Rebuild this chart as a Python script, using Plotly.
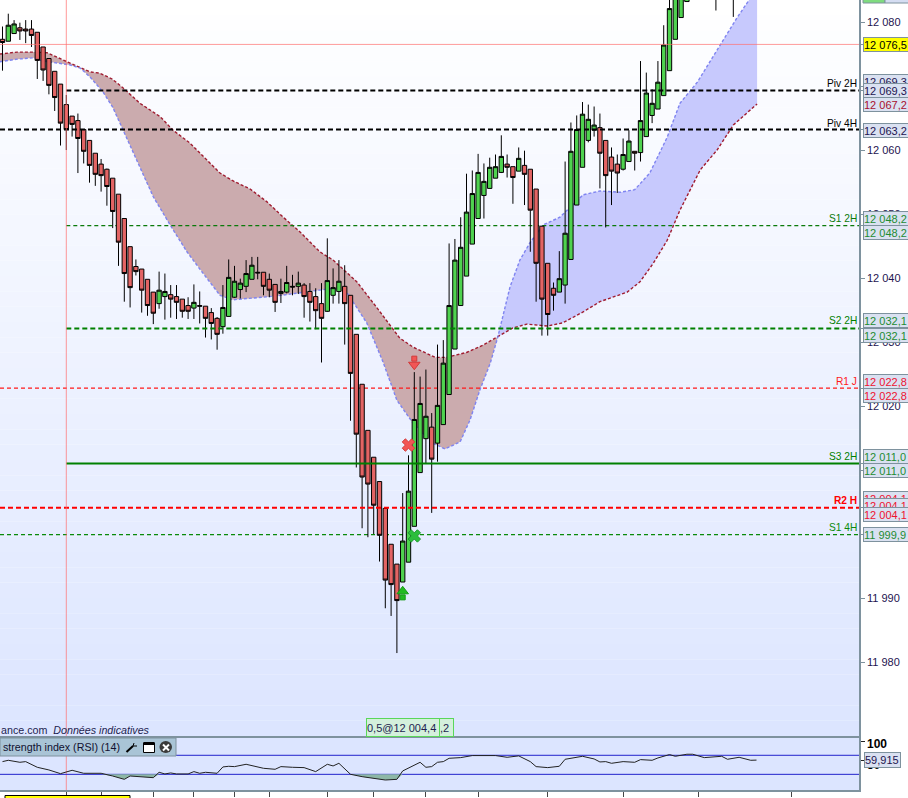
import plotly.graph_objects as go

W, H = 908, 798
PLOT_R, MAIN_B, RSI_T, RSI_B = 859, 736, 738, 790

candle_open = [12077.3,12077.0,12078.2,12079.1,12078.9,12078.9,12078.4,12076.1,12074.3,12072.3,
 12070.3,12067.1,12065.3,12064.6,12063.2,12061.5,12059.5,12057.8,12057.0,12055.6,
 12053.1,12049.3,12044.9,12041.8,12041.4,12039.8,12037.8,12036.0,12037.1,12037.4,
 12037.1,12036.7,12035.7,12035.3,12035.7,12035.6,12034.6,12033.7,12032.4,12034.0,
 12037.0,12038.2,12038.7,12039.8,12040.9,12040.9,12039.8,12039.0,12037.6,12037.8,
 12038.7,12038.7,12038.9,12037.9,12037.1,12036.0,12034.8,12037.3,12037.9,12038.7,
 12037.3,12031.2,12023.4,12016.2,12012.0,12008.2,12004.0,11998.4,11995.3,11992.5,
 11995.6,12001.2,12009.6,12014.9,12016.7,12014.2,12017.1,12021.8,12028.9,12035.7,
 12040.3,12045.3,12049.3,12052.9,12054.0,12055.6,12056.5,12057.8,12057.4,12056.7,
 12057.6,12057.0,12053.9,12048.1,12042.3,12038.4,12037.8,12038.9,12042.9,12051.4,
 12057.3,12061.5,12063.1,12063.5,12061.5,12058.9,12057.8,12057.0,12058.2,12059.8,
 12059.6,12062.1,12065.4,12066.4,12068.5,12072.4,12077.3,12080.7,12083.2,
 12086,12086,12086,12086,12086,12086,12086,12086,12086,12086,12086,12086]
candle_close = [12076.8,12079.5,12079.7,12078.6,12078.6,12077.9,12074.0,12072.5,12070.1,12068.2,
 12064.2,12063.2,12064.0,12061.8,12059.8,12057.6,12056.2,12056.0,12054.3,12050.4,
 12045.6,12040.7,12038.5,12041.0,12038.1,12035.7,12034.5,12038.1,12037.9,12036.7,
 12036.2,12034.8,12034.8,12036.2,12035.6,12033.7,12032.9,12031.2,12035.4,12040.1,
 12039.5,12039.2,12040.7,12042.0,12040.8,12038.7,12038.1,12036.2,12037.9,12039.3,
 12038.6,12039.2,12037.1,12036.2,12034.9,12033.7,12039.6,12038.5,12039.5,12036.0,
 12025.1,12015.6,12008.9,12007.8,12004.5,11999.8,11992.8,11992.1,11989.6,11998.9,
 12006.7,12017.9,12020.4,12018.4,12011.7,12020.1,12026.7,12035.7,12042.8,12044.8,
 12050.3,12053.2,12056.5,12055.1,12057.3,12057.4,12059.0,12057.3,12055.7,12058.7,
 12056.2,12050.6,12042.3,12036.7,12034.3,12037.3,12039.9,12047.0,12059.8,12063.2,
 12065.6,12064.8,12063.9,12059.5,12056.0,12056.7,12056.4,12059.3,12061.4,12059.5,
 12064.6,12068.9,12067.3,12070.6,12076.4,12082.1,12086,12090,12092,
 12088,12088,12088,12088,12088,12088,12088,12088,12088,12088,12088,12088]
candle_high = [12079.3,12081.3,12080.3,12079.9,12080.3,12080.3,12078.4,12076.1,12074.3,12072.3,
 12070.3,12068.6,12065.3,12065.7,12063.2,12061.5,12059.5,12058.6,12057.1,12055.6,
 12053.1,12049.3,12044.9,12042.9,12041.4,12039.8,12037.8,12041.0,12040.7,12038.9,
 12038.9,12036.7,12037.0,12039.0,12037.9,12035.6,12035.3,12033.9,12038.9,12042.9,
 12041.9,12039.9,12042.8,12043.3,12043.3,12040.9,12040.7,12039.0,12039.9,12041.9,
 12040.5,12041.0,12039.2,12039.2,12038.4,12039.2,12046.2,12041.5,12042.8,12042.0,
 12037.3,12031.2,12023.4,12016.2,12012.0,12008.2,12004.0,11998.4,11995.3,12006.4,
 12012.3,12025.3,12024.6,12025.7,12018.9,12029.6,12030.3,12045.4,12046.1,12049.5,
 12056.3,12056.8,12059.4,12057.9,12058.8,12059.3,12062.3,12059.3,12057.4,12060.4,
 12059.9,12057.0,12053.9,12048.1,12042.3,12039.3,12044.2,12058.2,12064.3,12065.4,
 12067.5,12067.1,12066.8,12065.7,12061.5,12060.4,12059.3,12061.8,12063.1,12059.8,
 12073.9,12072.1,12069.5,12073.9,12079.5,12085,12090,12092,12094,
 12090,12090,12090,12090,12090,12090,12090,12090,12090,12090,12090,12090]
candle_low = [12072.4,12077.0,12078.2,12077.2,12076.7,12076.1,12071.1,12070.8,12068.7,12066.1,
 12060.7,12060.0,12062.1,12056.4,12057.9,12054.9,12054.4,12053.5,12051.3,12047.8,
 12041.9,12036.3,12035.4,12040.4,12034.6,12034.1,12032.8,12035.2,12033.5,12033.8,
 12033.6,12033.8,12033.6,12033.6,12032.9,12030.7,12030.4,12028.8,12031.3,12034.0,
 12036.9,12036.8,12037.8,12039.8,12039.8,12037.3,12037.0,12034.7,12036.1,12037.6,
 12037.3,12037.5,12033.8,12033.2,12032.0,12026.8,12034.7,12036.0,12036.0,12029.6,
 12017.7,12010.4,12000.9,11999.5,12000.0,11995.7,11988.4,11987.2,11981.4,11992.5,
 11995.6,12001.2,12009.6,12011.0,12003.3,12011.3,12017.1,12021.8,12028.9,12035.7,
 12040.3,12045.3,12049.3,12049.3,12054.0,12055.6,12056.4,12055.7,12051.6,12056.7,
 12051.4,12044.1,12036.3,12031.0,12031.0,12034.9,12037.8,12036.0,12042.9,12051.4,
 12057.3,12061.2,12062.1,12054.0,12047.9,12051.4,12053.3,12056.8,12058.2,12056.8,
 12058.2,12062.1,12064.2,12066.4,12068.5,12072.4,12077.3,12080.7,12083.2,
 12084,12084,12084,12084,12081.8,12084,12084,12080.8,12084,12084,12084,12084]
candle_idx = list(range(len(candle_open)))

cloud_a_idx = [-0.43,2.5,5.6,7.7,9.4,11.1,13.4,15.1,16.8,18.9,20.8,23.7,27.2,29.4,32.3,35.3,37.5,39.7,42.7,45.6,48.4,51.3,54.7,57.0,61.1,64.6,66.8,68.5,70.8,74.6,76.6,80.1,82.8,85.4,
 88.0,90.4,93.9,96.6,100.1,103.0,107.7,109.9,112.2,114.6,116.8,120.3,123.2,126.0,130.1]
cloud_a_val = [12075.0,12075.3,12075.3,12075.2,12074.5,12073.8,12072.8,12072.2,12072.0,12071.1,12069.7,12067.3,12065.2,12063.1,12061.1,12058.4,12056.4,12055.2,12053.9,12051.9,12049.5,12047.2,12044.1,12042.8,12039.4,12035.3,12032.7,12030.6,12029.2,12027.6,12027.6,12028.4,12029.5,12030.8,
 12032.2,12032.8,12032.5,12033.0,12034.7,12036.3,12037.8,12039.4,12042.3,12045.9,12050.6,12056.9,12060.0,12063.9,12067.2]
cloud_b_idx = [-0.43,2.5,5.3,7.0,9.4,11.6,13.4,15.1,17.3,19.0,20.8,23.7,26.0,28.9,31.8,34.1,37.5,39.7,43.9,47.3,51.3,57.0,59.4,62.8,65.6,68.0,70.8,74.2,76.3,78.9,80.6,82.3,84.1,85.4,
 87.5,89.2,91.0,93.2,96.1,100.1,103.0,106.5,109.0,111.6,114.6,116.8,119.8,123.2,126.6,130.1]
cloud_b_val = [12073.8,12074.2,12074.4,12073.9,12073.6,12073.3,12072.8,12071.4,12069.1,12066.7,12063.1,12057.3,12052.7,12048.3,12044.1,12041.3,12037.3,12036.6,12036.9,12037.2,12037.7,12038.4,12037.7,12033.0,12026.9,12020.9,12017.3,12014.2,12013.3,12014.4,12017.8,12022.5,12026.7,12030.8,
 12038.6,12042.8,12045.6,12048.3,12049.5,12053.0,12053.6,12053.4,12053.8,12056.4,12062.0,12067.3,12070.6,12075.6,12080.6,12085.3]
CROSS_A, CROSS_B = 33, 33

rsi_idx = [0,1,3,4,6,8,10,12,14,17,19,21,22,24,26,27,28,29,30,32,33,34,35,37,38,39,40,42,45,47,48,50,52,54,56,57,58,60,62,66,68,69,72,73,74,75,76,77,79,81,85,87,89,91,92,94,96,97,100,102,103,104,105,107,109,110,112,113,114,115,116,118,119,121,124,125,127,129,130]
rsi_val = [56.7,59.5,55.3,56.7,44.8,39.2,31.4,38.5,32.2,32.2,26.5,19.5,26.5,25.1,23.0,34.3,30.8,32.9,30.8,30.8,35.7,32.2,34.3,32.2,45.5,46.9,46.2,51.1,42.7,40.6,46.2,44.8,44.1,35.7,51.1,47.6,53.2,30.1,25.1,18.1,19.5,37.1,55.3,44.8,46.2,55.3,56.7,63.7,65.1,69.4,69.4,65.8,68.7,56.7,46.2,44.1,46.9,61.6,67.9,62.3,56.0,56.7,53.2,56.7,55.3,60.9,59.5,64.4,67.2,71.5,67.9,72.2,72.2,65.1,67.9,61.6,65.8,59.5,59.9]
rsi_lower, rsi_upper = 30, 70
rsi_time_ticks = [11,17,26,33,40,46,56,64,73,82,94,107,120,136]

level_names = ["Piv 2H","Piv 4H","S1 2H","S2 2H","R1 J","S3 2H","R2 H","S1 4H"]
level_vals = [12069.3,12063.2,12048.2,12032.1,12022.8,12011.0,12004.1,11999.9]
level_start = [11,-0.43,11,11,-0.43,11,-0.43,-0.43]
level_colors = ["#000000","#000000","#0a7a0a","#008000","#ff1a1a","#008000","#ff0000","#0a8a0a"]
level_widths = [2,2,1.2,2,1.2,2,2,1.2]
level_dash = ["5px,3px","5px,3px","4px,3px","5px,3px","4px,3px","solid","5px,3px","4px,3px"]
level_on_top = [True,True,False,True,False,True,True,False]

price_ticks = [12080,12070,12060,12050,12040,12030,12020,12010,12000,11990,11980]
price_tick_text = ["12 080","12 070","12 060","12 050","12 040","12 030","12 020","12 010","12 000","11 990","11 980"]

crosshair_idx, crosshair_price = 11, 12076.5
sell_arrow = (71, 12026.9)
buy_arrow = (69, 11990.6)
sell_cross = (70, 12013.9)
buy_cross = (71, 11999.7)

XR = [-0.43, 147.67]
YR = [11968.44, 12083.44]
RR = [-2.9, 106.3]
XD = [0, PLOT_R / W]
Y_PX = H - 8
YD_MAIN = [(Y_PX - MAIN_B) / Y_PX, 1]
YD_RSI = [0, (Y_PX - RSI_T) / Y_PX]

def px(x): return x / W
def py(y): return (Y_PX - y) / Y_PX

fig = go.Figure()

RED_FILL, BLUE_FILL = "#CBABAE", "#C7C9FD"
RED_LINE, BLUE_LINE = "#A01C30", "#7F84F0"
for (ax, ay, bx, by, fill) in [
    (cloud_a_idx[:CROSS_A+1], cloud_a_val[:CROSS_A+1], cloud_b_idx[:CROSS_B+1], cloud_b_val[:CROSS_B+1], RED_FILL),
    (cloud_a_idx[CROSS_A:], cloud_a_val[CROSS_A:], cloud_b_idx[CROSS_B:], cloud_b_val[CROSS_B:], BLUE_FILL)]:
    fig.add_trace(go.Scatter(x=ax+bx[::-1], y=ay+by[::-1], mode="lines", line=dict(width=0), fill="toself",
                             fillcolor=fill, xaxis="x", yaxis="y", hoverinfo="skip", showlegend=False))
fig.add_trace(go.Scatter(x=cloud_a_idx, y=cloud_a_val, mode="lines", line=dict(color=RED_LINE, width=1.4, dash="3px,2px"),
                         xaxis="x", yaxis="y", hoverinfo="skip", showlegend=False))
fig.add_trace(go.Scatter(x=cloud_b_idx, y=cloud_b_val, mode="lines", line=dict(color=BLUE_LINE, width=1.4, dash="3px,2px"),
                         xaxis="x", yaxis="y", hoverinfo="skip", showlegend=False))

def add_levels(top, xa, ya):
    for n, v, s, c, w, d, t in zip(level_names, level_vals, level_start, level_colors, level_widths, level_dash, level_on_top):
        if t == top:
            fig.add_trace(go.Scatter(x=[s, XR[1]], y=[v, v], mode="lines", line=dict(color=c, width=w, dash=d),
                                     xaxis=xa, yaxis=ya, hoverinfo="skip", showlegend=False, name=n))

add_levels(False, "x", "y")

fig.add_trace(go.Candlestick(x=candle_idx, open=candle_open, high=candle_high, low=candle_low, close=candle_close,
    increasing=dict(line=dict(color="#000000", width=1), fillcolor="#4FD24F"),
    decreasing=dict(line=dict(color="#000000", width=1), fillcolor="#E36464"),
    whiskerwidth=0, xaxis="x2", yaxis="y2", hoverinfo="skip", showlegend=False))

add_levels(True, "x3", "y3")

PINK = "rgba(255,110,110,0.7)"
fig.add_trace(go.Scatter(x=[XR[0], XR[1]], y=[crosshair_price]*2, mode="lines", line=dict(color=PINK, width=1),
                         xaxis="x3", yaxis="y3", hoverinfo="skip", showlegend=False))
fig.add_trace(go.Scatter(x=[crosshair_idx]*2, y=YR, mode="lines", line=dict(color=PINK, width=1),
                         xaxis="x3", yaxis="y3", hoverinfo="skip", showlegend=False))
fig.add_trace(go.Scatter(x=[crosshair_idx]*2, y=RR, mode="lines", line=dict(color=PINK, width=1),
                         xaxis="x4", yaxis="y4", hoverinfo="skip", showlegend=False))

def marker(x, y, sym, size, color, lc, lw=1):
    fig.add_trace(go.Scatter(x=[x], y=[y], mode="markers",
                             marker=dict(symbol=sym, size=size, color=color, line=dict(color=lc, width=lw)),
                             xaxis="x3", yaxis="y3", hoverinfo="skip", showlegend=False))

marker(sell_cross[0], sell_cross[1], "x", 11, "#F25555", "#D23A3A")
marker(buy_cross[0], buy_cross[1], "x", 11, "#2CBE3C", "#1C9A2C")
marker(sell_arrow[0], sell_arrow[1]+0.5, "square", 5, "#F25555", "#D23A3A")
marker(sell_arrow[0], sell_arrow[1]-0.45, "triangle-down", 10, "#F25555", "#D23A3A")
marker(buy_arrow[0], buy_arrow[1]-0.5, "square", 5, "#22BB22", "#169A16")
marker(buy_arrow[0], buy_arrow[1]+0.45, "triangle-up", 10, "#22BB22", "#169A16")

# RSI panel
for v in (rsi_lower, rsi_upper):
    fig.add_trace(go.Scatter(x=[XR[0], XR[1]], y=[v, v], mode="lines", line=dict(color="#2222CC", width=1),
                             xaxis="x4", yaxis="y4", hoverinfo="skip", showlegend=False))
fig.add_trace(go.Scatter(x=rsi_idx, y=[rsi_lower]*len(rsi_idx), mode="lines", line=dict(width=0),
                         xaxis="x4", yaxis="y4", hoverinfo="skip", showlegend=False))
fig.add_trace(go.Scatter(x=rsi_idx, y=[min(v, rsi_lower) for v in rsi_val], mode="lines", line=dict(width=0),
                         fill="tonexty", fillcolor="#8DB7A6", xaxis="x4", yaxis="y4", hoverinfo="skip", showlegend=False))
fig.add_trace(go.Scatter(x=rsi_idx, y=rsi_val, mode="lines", line=dict(color="#222222", width=1),
                         xaxis="x4", yaxis="y4", hoverinfo="skip", showlegend=False))

AXC = "#7E929E"
hidden = dict(visible=False, fixedrange=True)
shapes = []
N = 48
for k in range(N):
    t = (k + 0.5) / N
    col = f"rgb({round(255-35*t)},{round(255-26*t)},255)"
    shapes.append(dict(type="rect", xref="paper", yref="paper", layer="below", line=dict(width=0), fillcolor=col,
                       x0=0, x1=px(PLOT_R), y0=py(MAIN_B*(k+1)/N), y1=py(MAIN_B*k/N)))
shapes.append(dict(type="rect", xref="paper", yref="paper", layer="below", line=dict(width=0), fillcolor="#DCE5FF",
                   x0=0, x1=px(PLOT_R), y0=py(RSI_B), y1=py(RSI_T)))
def rect(x0, y0, x1, y1, fill, lc=None, lw=1):
    shapes.append(dict(type="rect", xref="paper", yref="paper", layer="above",
                       line=dict(color=lc or fill, width=lw if lc else 0), fillcolor=fill,
                       x0=px(x0), x1=px(x1), y0=py(y1), y1=py(y0)))
rect(0, 738, 176, 756, "#A9C4D6", AXC)
rect(143.5, 743, 154.5, 752.5, "#FFFFFF", "#000000", 1)
rect(143.5, 742, 154.5, 745, "#000000")
shapes.append(dict(type="circle", xref="paper", yref="paper", layer="above", line=dict(width=0), fillcolor="#3A3A3A",
                   x0=px(159.5), x1=px(172), y0=py(753), y1=py(741)))
for (a, b, c, d, col, w) in [(163,744.5,169,750.5,"#FFFFFF",2),(169,744.5,163,750.5,"#FFFFFF",2),
                             (126.5,752,133,746,"#000000",2),(133,746,134,743,"#000000",1),(133,746,137,746,"#000000",1)]:
    shapes.append(dict(type="line", xref="paper", yref="paper", layer="above", line=dict(color=col, width=w),
                       x0=px(a), x1=px(c), y0=py(b), y1=py(d)))
rect(5, 795.5, 130, 800, "#FFFF00", "#000000", 1)
rect(863, -2, 885, 3, "#7FDB7F", AXC)
rect(885, -2, 910, 3, "#D5DDF2", AXC)

FONT = "Liberation Sans"
ann = []
def box(text, y, color, bg="#DAE1F1", bc=AXC):
    ann.append(dict(text=text, xref="paper", yref="paper", x=px(863), y=py(y), xanchor="left", yanchor="middle",
                    width=50, height=13, align="left", showarrow=False, bgcolor=bg, bordercolor=bc, borderwidth=1, borderpad=0,
                    font=dict(family=FONT, size=11, color=color)))
NAVY = "#1E1450"
DRED = "#A80F2E"
GRN = "#1E8C32"
RED = "#EE1230"
box("12 069,3", 81, NAVY)
box("12 069,3", 90, NAVY)
box("12 067,2", 104, DRED)
box("12 063,2", 130, NAVY)
box("12 076,5", 44.5, "#000000", "#FFFF00")
box("12 048,2", 218, GRN)
box("12 048,2", 232, GRN)
box("12 032,1", 321, GRN)
box("12 032,1", 335, GRN)
box("12 022,8", 381, RED)
box("12 022,8", 395, RED)
box("12 011,0", 456, GRN)
box("12 011,0", 470, GRN)
box("12 004,1", 498, RED)
box("12 004,1", 505, RED)
box("12 004,1", 514, RED)
box("11 999,9", 534, GRN)
ann.append(dict(text="<b>100</b>", xref="paper", yref="paper", x=px(866), y=py(744), xanchor="left", yanchor="middle",
                showarrow=False, borderpad=0, font=dict(family=FONT, size=12, color="#000000")))
ann.append(dict(text="<b>50</b>", xref="paper", yref="paper", x=px(866), y=py(764.5), xanchor="left", yanchor="middle",
                showarrow=False, borderpad=0, font=dict(family=FONT, size=12, color="#000000")))
ann.append(dict(text="59,915", xref="paper", yref="paper", x=px(864), y=py(760), xanchor="left", yanchor="middle",
                width=35, height=14, showarrow=False, align="left", bgcolor="#DAE1F1", bordercolor=AXC, borderwidth=1, borderpad=0,
                font=dict(family=FONT, size=11, color=NAVY)))

level_label_y = [83, 123, 218, 321, 381, 456, 500, 527]
for n, yy, c in zip(level_names, level_label_y, level_colors):
    bold = n == "R2 H"
    ann.append(dict(text=f"<b>{n}</b>" if bold else n, xref="paper", yref="paper", x=px(857.5), y=py(yy), xanchor="right",
                    yanchor="middle", showarrow=False, font=dict(family=FONT, size=10.2, color=c), borderpad=0))

ann.append(dict(text="ance.com  <i>Données indicatives</i>", xref="paper", yref="paper", x=0, y=py(729.5), xanchor="left",
                yanchor="middle", showarrow=False, borderpad=0, font=dict(family=FONT, size=10.7, color="#1E1E50")))
ann.append(dict(text="strength index (RSI) (14)", xref="paper", yref="paper", x=px(2), y=py(747), xanchor="left",
                yanchor="middle", showarrow=False, borderpad=0, font=dict(family=FONT, size=10.7, color="#101030")))
for t, x0, w in [("0,5@12 004,4", 366, 73), (",2", 439, 13)]:
    ann.append(dict(text=t, xref="paper", yref="paper", x=px(x0), y=py(727), xanchor="left", yanchor="middle",
                    width=w, height=17, showarrow=False, align="left", bgcolor="#D4F0DC", bordercolor="#5AD75A", borderwidth=1, borderpad=0,
                    font=dict(family=FONT, size=11, color="#1E1E50")))

fig.update_layout(
    width=W, height=H, margin=dict(l=0, r=0, t=0, b=8, pad=0, autoexpand=False), paper_bgcolor="#FFFFFF", plot_bgcolor="rgba(0,0,0,0)",
    showlegend=False, hovermode=False, boxgap=0.25, boxgroupgap=0, shapes=shapes, annotations=ann,
    xaxis=dict(domain=XD, range=XR, anchor="y", showgrid=False, zeroline=False, showticklabels=False, ticks="",
               showline=True, linecolor=AXC, linewidth=1.5, fixedrange=True),
    yaxis=dict(domain=YD_MAIN, range=YR, anchor="x", side="right", showgrid=False, zeroline=False,
               tickvals=price_ticks + level_vals + [crosshair_price],
               ticktext=price_tick_text + [""]*len(level_vals) + [""],
               ticks="outside", ticklen=4, tickcolor=AXC, tickwidth=1, showline=True, linecolor=AXC, linewidth=1.5,
               tickfont=dict(family=FONT, size=11, color=NAVY), fixedrange=True),
    xaxis2=dict(domain=XD, range=XR, anchor="y2", overlaying="x", rangeslider=dict(visible=False), **hidden),
    yaxis2=dict(domain=YD_MAIN, range=YR, anchor="x2", overlaying="y", **hidden),
    xaxis3=dict(domain=XD, range=XR, anchor="y3", overlaying="x", **hidden),
    yaxis3=dict(domain=YD_MAIN, range=YR, anchor="x3", overlaying="y", **hidden),
    xaxis4=dict(domain=XD, range=XR, anchor="y4", showgrid=False, zeroline=False, tickvals=rsi_time_ticks,
                ticktext=[""]*len(rsi_time_ticks), ticks="outside", ticklen=5, tickcolor="#444444", tickwidth=1,
                showline=True, linecolor=AXC, linewidth=1.5, mirror=True, fixedrange=True),
    yaxis4=dict(domain=YD_RSI, range=RR, anchor="x4", side="right", showgrid=False, zeroline=False,
                tickvals=[100, 59.915], ticktext=["", ""], ticks="outside", ticklen=4,
                tickcolor="#222222", showline=True, linecolor=AXC, linewidth=1.5, fixedrange=True),
)

fig.write_html("out.html", post_script="document.body.style.margin='0';document.documentElement.style.overflow='hidden';",
               config=dict(displayModeBar=False))
